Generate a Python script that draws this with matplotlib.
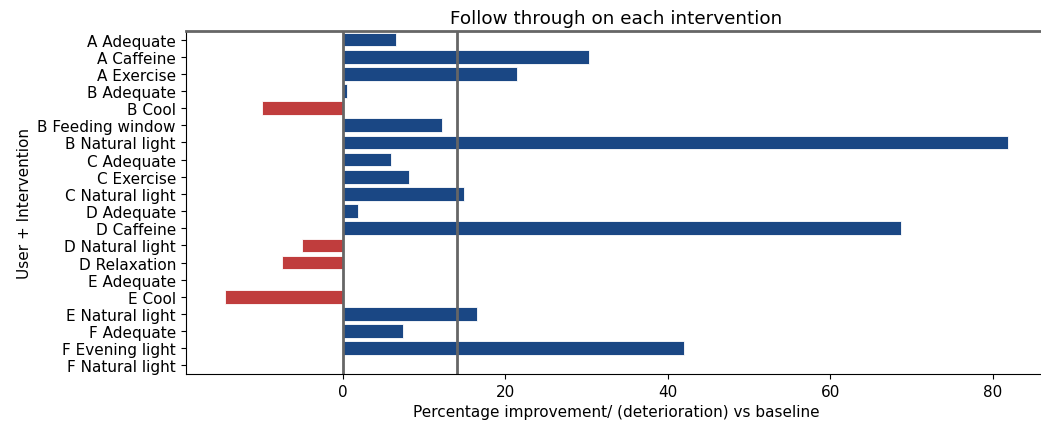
import numpy as np
import matplotlib
matplotlib.use('Agg')
import matplotlib.pyplot as plt

plt.rcParams['font.size'] = 11

# Datos del grafico
etiquetas = ['A Adequate', 'A Caffeine', 'A Exercise', 'B Adequate', 'B Cool',
             'B Feeding window', 'B Natural light', 'C Adequate', 'C Exercise',
             'C Natural light', 'D Adequate', 'D Caffeine', 'D Natural light',
             'D Relaxation', 'E Adequate', 'E Cool', 'E Natural light',
             'F Adequate', 'F Evening light', 'F Natural light']
valores = [6.5, 30.3, 21.4, 0.5, -9.9, 12.2, 81.9, 5.9, 8.2, 14.95, 1.9, 68.75,
           -5.0, -7.5, 0.0, -14.5, 16.5, 7.45, 41.95, 0.0]
linea_ref = 14.1

azul = '#1a4784'
rojo = '#c03d3d'
colores = [azul if v >= 0 else rojo for v in valores]

fig = plt.figure(figsize=(10.41, 4.27), dpi=100)
ax = fig.add_axes([0.1784, 0.1218, 0.8277, 0.8033])

y = np.arange(len(etiquetas))
ax.barh(y, valores, height=0.8, color=colores, edgecolor='#ffffff', linewidth=0.6)
ax.set_yticks(y)
ax.set_yticklabels(etiquetas)
ax.set_ylim(len(etiquetas) - 0.5, -0.5)
ax.margins(x=0.05)

ax.axvline(0, color='#666666', linewidth=2)
ax.axvline(linea_ref, color='#666666', linewidth=2)

ax.spines['right'].set_visible(False)
ax.spines['top'].set_color('#666666')
ax.spines['top'].set_linewidth(2)

ax.set_xticks([0, 20, 40, 60, 80])
ax.set_title('Follow through on each intervention', fontsize=13.2)
ax.set_xlabel('Percentage improvement/ (deterioration) vs baseline')
ax.set_ylabel('User + Intervention')

plt.savefig('out.png', dpi=100)
plt.close()
